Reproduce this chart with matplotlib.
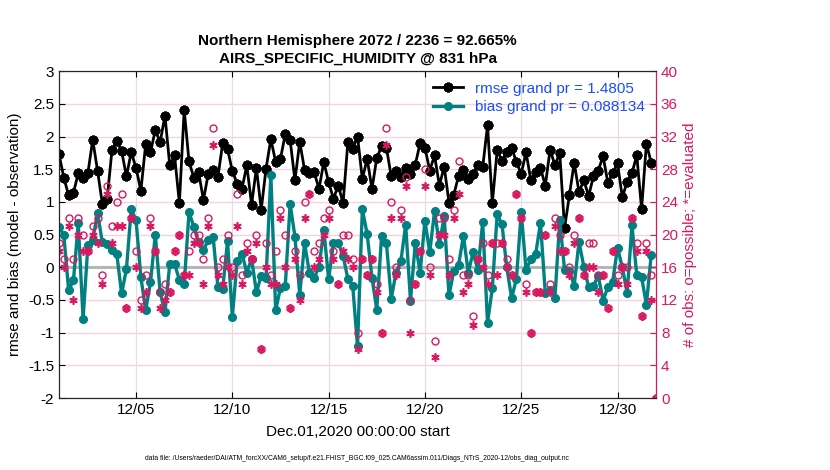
import numpy as np
import matplotlib
matplotlib.use("Agg")
import matplotlib.pyplot as plt

plt.rcParams['font.family'] = ['Liberation Sans', 'DejaVu Sans']

# 6-hourly bins starting Dec.01,2020 00:00
rmse = [1.73, 1.37, 1.10, 1.14, 1.44, 1.37, 1.44, 1.95, 1.48, 0.97, 1.05, 1.79, 1.93, 1.78,
        1.39, 1.76, 1.52, 1.17, 1.88, 1.76, 2.10, 1.91, 2.32, 1.56, 1.71, 0.98, 2.41, 1.62,
        1.37, 1.45, 1.03, 1.43, 1.49, 1.38, 1.90, 1.81, 1.47, 1.28, 1.20, 1.56, 0.96, 1.52,
        0.88, 1.51, 1.96, 1.61, 1.66, 2.04, 1.95, 1.33, 1.92, 1.49, 1.44, 1.45, 1.20, 1.61,
        1.30, 1.05, 1.25, 0.98, 1.92, 1.81, 2.00, 1.35, 1.66, 1.20, 1.67, 1.85, 1.83, 1.39,
        1.48, 1.38, 1.52, 1.42, 1.57, 1.90, 1.83, 1.48, 1.71, 1.25, 1.54, 0.99, 1.11, 1.40,
        1.49, 1.35, 1.42, 1.57, 1.53, 2.17, 0.98, 1.79, 1.63, 1.76, 1.83, 1.61, 1.43, 1.76,
        1.33, 1.45, 1.52, 1.25, 1.80, 1.56, 1.75, 0.60, 1.10, 1.60, 1.15, 1.33, 1.09, 1.39,
        1.48, 1.70, 1.29, 1.44, 1.59, 1.07, 1.31, 1.44, 1.71, 0.89, 1.89, 1.60]
bias = [0.62, 0.49, -0.35, -0.20, 0.67, -0.79, 0.34, 0.42, 0.83, 0.38, 0.35, 0.27, 0.20, -0.40,
        -0.03, 0.89, 0.72, -0.15, -0.66, -0.23, 0.50, -0.38, -0.69, 0.05, 0.05, -0.19, -0.26, 0.84,
        0.62, 0.38, 0.27, 0.41, 0.47, -0.30, -0.33, 0.40, -0.76, 0.10, 0.21, -0.08, 0.13, -0.38,
        -0.13, -0.16, 1.41, -0.66, -0.31, -0.28, 0.97, 0.47, -0.42, 0.37, -0.08, -0.16, 0.01, 0.57,
        -0.18, 0.37, 0.37, 0.18, -0.18, -0.28, -1.21, 0.89, 0.51, -0.16, -0.65, 0.48, 0.37, -0.48,
        -0.08, 0.09, 0.65, -0.51, 0.37, -0.08, 0.71, 0.23, 0.86, 0.35, 0.78, -0.43, -0.05, 0.04,
        0.48, -0.08, 0.23, -0.04, 0.69, -0.85, -0.32, 0.81, 0.66, 0.00, -0.47, -0.18, 0.84, -0.04,
        0.12, 0.20, 0.68, -0.40, -0.35, -0.47, 0.72, -0.04, -0.05, -0.28, 0.39, 0.01, -0.30, -0.28,
        -0.13, -0.51, -0.30, -0.22, 0.30, 0.00, -0.39, 0.64, -0.12, -0.15, -0.57, 0.19]
possible = [19, 17, 22, 17, 22, 20, 18, 21, 22, 15, 26, 21, 24, 25,
            11, 22, 18, 12, 15, 22, 18, 13, 14, 13, 18, 20, 15, 18, 20, 20, 17, 22,
            33, 16, 17, 20, 16, 25, 15, 19, 17, 20, 6, 19, 15, 18, 23, 20, 11,
            18, 15, 24, 25, 18, 19, 22, 23, 18, 14, 20, 20, 17, 8, 17, 15, 17, 14, 8, 33, 24,
            16, 23, 27, 12, 14, 18, 28, 16, 7, 22, 22, 17, 23, 29, 15, 15, 10, 17,
            19, 15, 19, 19, 19, 17, 15, 25, 22, 14, 8, 13, 13, 20, 14, 22, 20, 18, 16,
            20, 22, 15, 19, 19, 15, 15, 11, 18, 15, 16, 16, 22, 19, 10, 19, 15, 0]
evaluated = [18, 16, 21, 12, 20, 18, 18, 20, 19, 14, 25, 19, 21, 21,
             11, 22, 16, 11, 13, 21, 18, 11, 12, 13, 18, 20, 15, 15, 19, 19, 14, 21,
             31, 15, 14, 16, 15, 21, 14, 18, 17, 19, 6, 16, 14, 14, 22, 16, 11,
             17, 12, 22, 25, 16, 17, 20, 22, 17, 14, 18, 17, 16, 6, 17, 15, 17, 13, 8, 31, 22,
             15, 22, 26, 8, 14, 18, 26, 15, 5, 20, 20, 15, 22, 25, 13, 14, 9, 17,
             16, 14, 19, 15, 19, 16, 15, 25, 22, 13, 8, 13, 13, 20, 13, 21, 18, 18, 15,
             19, 22, 15, 16, 16, 13, 15, 11, 18, 14, 16, 14, 22, 18, 10, 18, 12, 0]
tick_days = [4, 9, 14, 19, 24, 29]
tick_labels = ["12/05", "12/10", "12/15", "12/20", "12/25", "12/30"]

mag = "#d9185f"
teal = "#008080"
blue = "#1a4dff"

t = np.arange(len(rmse)) * 0.25
tc = np.arange(len(possible)) * 0.25

fig = plt.figure(figsize=(8.3, 4.7), dpi=100)
ax = fig.add_axes([0.0711, 0.153, 0.7193, 0.6957])
ax2 = ax.twinx()

for y in np.arange(-2, 3.01, 0.5):
    ax.axhline(y, color="#f6d3e2", lw=1, zorder=0)
for d in tick_days:
    ax.axvline(d, color="#e0e0e0", lw=0.9, zorder=0)
ax.axhline(0, color="#b5b5b5", lw=2.2, zorder=1)

l1, = ax.plot(t, rmse, color="black", lw=2, marker=(8, 2, 0), ms=7, mew=2.2,
              label="rmse grand pr = 1.4805", zorder=3)
l2, = ax.plot(t, bias, color=teal, lw=2.4, marker="o", ms=5.5,
              label="bias grand pr = 0.088134", zorder=3)

ax2.plot(tc, possible, ls="none", marker="o", ms=5, mfc="none", mec=mag, mew=1.0)
ax2.plot(tc, evaluated, ls="none", marker=(6, 2, 0), ms=6, mec=mag, mew=1.2)

ax.set_xlim(0, 31)
ax.set_ylim(-2, 3)
ax2.set_ylim(0, 40)
ax.set_yticks(np.arange(-2, 3.01, 0.5))
ax.set_yticklabels(["-2", "-1.5", "-1", "-0.5", "0", "0.5", "1", "1.5", "2", "2.5", "3"])
ax2.set_yticks(np.arange(0, 41, 4))
ax.set_xticks(tick_days)
ax.set_xticklabels(tick_labels)

ax.tick_params(direction="in", labelsize=11, length=4, top=True)
ax2.tick_params(direction="in", labelsize=11, length=4, colors=mag)
ax2.spines["right"].set_color(mag)
for s in ["left", "top", "bottom"]:
    ax2.spines[s].set_color("#262626")

ax.set_ylabel("rmse and bias (model - observation)", fontsize=11)
ax2.set_ylabel("# of obs: o=possible; *=evaluated", fontsize=11, color=mag)
ax.set_xlabel("Dec.01,2020 00:00:00 start", fontsize=11, labelpad=6)
ax.set_title("Northern Hemisphere 2072 / 2236 = 92.665%\nAIRS_SPECIFIC_HUMIDITY @ 831 hPa",
             fontsize=11, fontweight="bold", pad=6, linespacing=1.3)

leg = ax2.legend(handles=[l1, l2], loc="upper right", frameon=False, fontsize=11,
                 handlelength=2.0, borderaxespad=0.3, labelspacing=0.3)
for txt in leg.get_texts():
    txt.set_color(blue)

fig.text(0.43, 0.022, "data file: /Users/raeder/DAI/ATM_forcXX/CAM6_setup/f.e21.FHIST_BGC.f09_025"
         ".CAM6assim.011/Diags_NTrS_2020-12/obs_diag_output.nc", fontsize=4.9, ha="center")

fig.savefig("out.png", dpi=100)
